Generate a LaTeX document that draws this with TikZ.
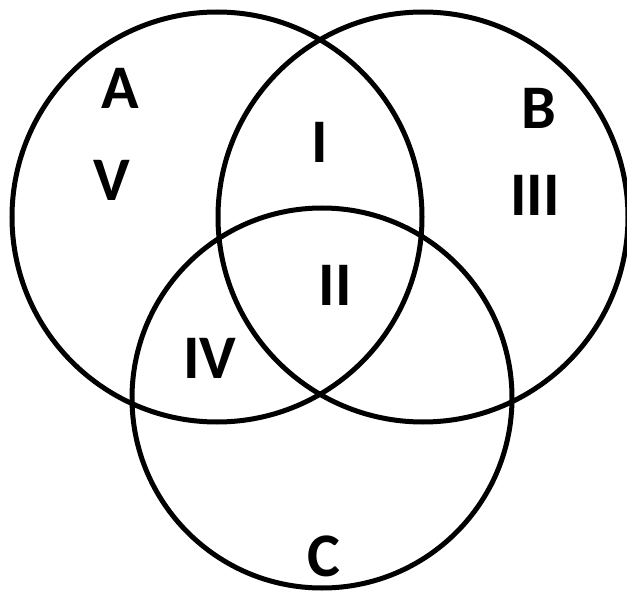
\documentclass[tikz,border=0pt]{standalone}
\usepackage{fontspec}
\setmainfont{Carlito}
\usepackage{tikz}
\usetikzlibrary{positioning}

\tikzset{
  setline/.style={line width=5pt, black},
  setlabel/.style={font=\fontsize{62}{62}\selectfont\bfseries, inner sep=0pt}
}

\begin{document}
\begin{tikzpicture}[x=1pt, y=-1pt]
    \useasboundingbox (0,0) rectangle (627,591);
    % Sets
    \draw[setline] (217,217) circle (205);
    \draw[setline] (423,217) circle (205);
    \draw[setline] (322,398) circle (190);
    % Set names
    \node[setlabel] (lA) at (120,88) {A};
    \node[setlabel] (lB) at (539,108) {B};
    \node[setlabel] (lC) at (324,556) {C};
    % Regions
    \foreach \x/\y/\n/\t in {320/142/r1/I, 335/285/r2/II, 535/195/r3/III, 210/358/r4/IV, 112/180/r5/V}{
      \node[setlabel] (\n) at (\x,\y) {\t};
    }
\end{tikzpicture}
\end{document}
